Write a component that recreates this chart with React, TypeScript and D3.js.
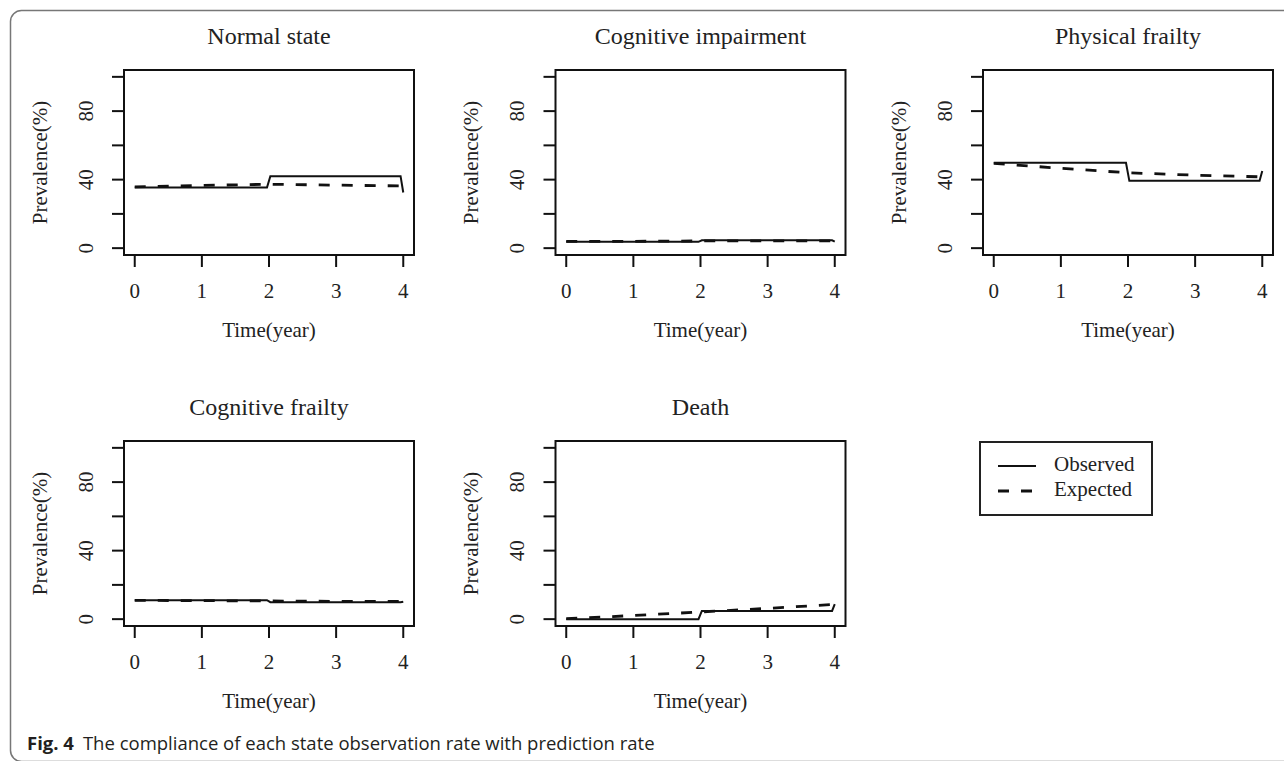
import React from 'react'
import * as d3 from 'd3'

// panel titles, in reading order
const states = ['Normal state', 'Cognitive impairment', 'Physical frailty', 'Cognitive frailty', 'Death']

// time points where the observed (step) line changes
const obsTimes = [0, 1.97, 2.02, 3.96, 4]
// time points of the expected curve
const expTimes = [0, 1, 2, 3, 4]

const observedNormal = [35.4, 35.4, 42, 42, 32.5]
const observedCogImp = [3.7, 3.7, 4.6, 4.6, 3.8]
const observedPhys = [49.8, 49.8, 39.3, 39.3, 45]
const observedCogFrail = [11.1, 11.1, 9.9, 9.9, 10.2]
const observedDeath = [0, 0, 4.8, 4.8, 8.8]

const expectedNormal = [35.8, 36.6, 37.3, 36.8, 36.3]
const expectedCogImp = [3.9, 4.0, 4.2, 4.3, 4.3]
const expectedPhys = [49.5, 46.6, 44, 42.6, 41.6]
const expectedCogFrail = [11, 10.8, 10.6, 10.4, 10.3]
const expectedDeath = [0.3, 2.1, 4.2, 6.3, 8.6]

const observedAll = [observedNormal, observedCogImp, observedPhys, observedCogFrail, observedDeath]
const expectedAll = [expectedNormal, expectedCogImp, expectedPhys, expectedCogFrail, expectedDeath]

const xTicks = [0, 1, 2, 3, 4]
const yTicks = [0, 20, 40, 60, 80, 100]
const yLabels = [0, 40, 80]

const serif = '"Liberation Serif", "DejaVu Serif", serif'

const W = 290
const H = 185

const Panel = ({ idx, left, top }) => {
  // R style 4% axis expansion
  const x = d3.scaleLinear().domain([-0.16, 4.16]).range([0, W])
  const y = d3.scaleLinear().domain([-4, 104]).range([H, 0])
  const line = d3.line().x(d => x(d[0])).y(d => y(d[1]))

  const obs = obsTimes.map((t, i) => [t, observedAll[idx][i]])
  const exp = expTimes.map((t, i) => [t, expectedAll[idx][i]])

  return (
    <g transform={`translate(${left},${top})`}>
      <text x={W / 2} y={-32} textAnchor="middle" dominantBaseline="middle"
        fontFamily={serif} fontSize={24} fill="#222">{states[idx]}</text>

      <path d={line(exp)} fill="none" stroke="#111" strokeWidth={2.8} strokeDasharray="11 12" />
      <path d={line(obs)} fill="none" stroke="#111" strokeWidth={2} />

      <rect x={0} y={0} width={W} height={H} fill="none" stroke="#111" strokeWidth={2} />

      {yTicks.map(t => (
        <line key={t} x1={-12} x2={0} y1={y(t)} y2={y(t)} stroke="#111" strokeWidth={2} />
      ))}
      {yLabels.map(t => (
        <text key={t} transform={`translate(-36,${y(t)}) rotate(-90)`} textAnchor="middle"
          dominantBaseline="middle" fontFamily={serif} fontSize={21} fill="#222">{t}</text>
      ))}
      {xTicks.map(t => (
        <g key={t}>
          <line x1={x(t)} x2={x(t)} y1={H} y2={H + 12} stroke="#111" strokeWidth={2} />
          <text x={x(t)} y={H + 38} textAnchor="middle" dominantBaseline="middle"
            fontFamily={serif} fontSize={21} fill="#222">{t}</text>
        </g>
      ))}

      <text x={W / 2} y={H + 77} textAnchor="middle" dominantBaseline="middle"
        fontFamily={serif} fontSize={21} fill="#222">Time(year)</text>
      <text transform={`translate(-82,${H / 2}) rotate(-90)`} textAnchor="middle"
        dominantBaseline="middle" fontFamily={serif} fontSize={21} fill="#222">Prevalence(%)</text>
    </g>
  )
}

export default function App() {
  const colX = [124, 555.5, 983]
  const rowY = [70, 441]
  return (
    <svg width={1284} height={761} style={{ position: 'absolute', left: 0, top: 0 }}>
      <rect x={0} y={0} width={1284} height={761} fill="#fff" />
      <rect x={10.5} y={10.5} width={1400} height={751} rx={11} fill="none" stroke="#777" strokeWidth={1.5} />

      {states.map((s, i) => (
        <Panel key={s} idx={i} left={colX[i % 3]} top={rowY[Math.floor(i / 3)]} />
      ))}

      {/* legend */}
      <g transform="translate(980,442)">
        <rect x={0} y={0} width={172} height={73} fill="none" stroke="#222" strokeWidth={2} />
        <line x1={18} x2={56} y1={24} y2={24} stroke="#111" strokeWidth={2} />
        <line x1={18} x2={56} y1={49} y2={49} stroke="#111" strokeWidth={2.8} strokeDasharray="11 12" />
        <text x={74} y={24} dominantBaseline="middle" fontFamily={serif} fontSize={21} fill="#222">Observed</text>
        <text x={74} y={49} dominantBaseline="middle" fontFamily={serif} fontSize={21} fill="#222">Expected</text>
      </g>

      <text x={27} y={750} fontFamily='"Open Sans", "Noto Sans", sans-serif' fontSize={18.5} fill="#231f20">
        <tspan fontWeight="bold">Fig. 4</tspan>
        <tspan dx={9}>The compliance of each state observation rate with prediction rate</tspan>
      </text>
    </svg>
  )
}
